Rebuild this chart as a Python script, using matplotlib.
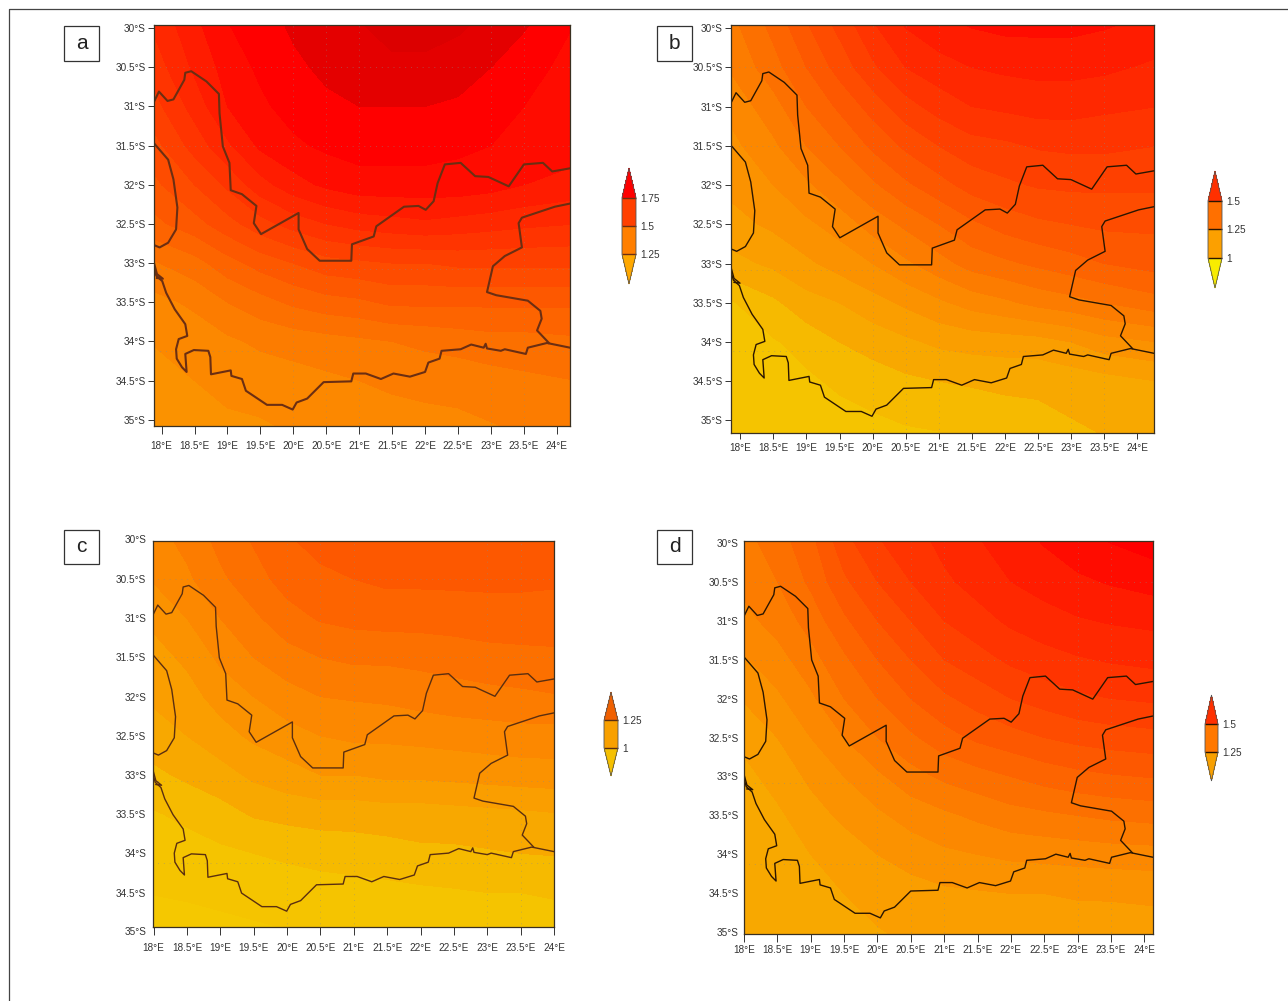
# %% imports
import numpy as np
import matplotlib
matplotlib.use('Agg')
import matplotlib.pyplot as plt
from matplotlib.colors import ListedColormap, BoundaryNorm
from matplotlib.cm import ScalarMappable
from matplotlib.lines import Line2D
from matplotlib.patches import Rectangle

plt.rcParams['font.family'] = ['Liberation Sans Narrow', 'Liberation Sans', 'DejaVu Sans']

W, H = 1288, 1001

# %% data
lons = [17.8, 18.5, 19, 19.5, 20, 20.5, 21, 21.5, 22, 22.5, 23, 23.5, 24.3]
lats = [29.9, 30.5, 31, 31.5, 32, 32.5, 33, 33.5, 34, 34.5, 35.2]

levels = [0.85, 0.95, 1.00, 1.05, 1.10, 1.15, 1.20, 1.25, 1.30, 1.35, 1.40, 1.45,
          1.50, 1.55, 1.60, 1.65, 1.70, 1.75, 1.80, 1.85, 2.00]
band_colors = ['#F5C800', '#F5C400', '#F6BA00', '#F8A800', '#FA9E00', '#FB9200', '#FC8800',
               '#FC7C00', '#FC7000', '#FD6400', '#FD5800', '#FE4C00', '#FE4000', '#FF3400',
               '#FF2800', '#FF1C00', '#FF0C00', '#FF0000', '#E40000', '#DC0000']

field_a = [[1.60, 1.69, 1.75, 1.78, 1.81, 1.83, 1.85, 1.87, 1.87, 1.86, 1.84, 1.81, 1.75],
           [1.56, 1.66, 1.72, 1.76, 1.79, 1.81, 1.83, 1.84, 1.84, 1.83, 1.80, 1.77, 1.73],
           [1.52, 1.62, 1.70, 1.74, 1.77, 1.79, 1.80, 1.80, 1.80, 1.79, 1.77, 1.75, 1.73],
           [1.47, 1.57, 1.64, 1.71, 1.74, 1.76, 1.77, 1.77, 1.77, 1.76, 1.75, 1.74, 1.72],
           [1.43, 1.50, 1.56, 1.63, 1.68, 1.71, 1.73, 1.73, 1.73, 1.73, 1.72, 1.70, 1.68],
           [1.38, 1.43, 1.48, 1.53, 1.57, 1.60, 1.62, 1.63, 1.64, 1.63, 1.62, 1.61, 1.60],
           [1.29, 1.33, 1.38, 1.42, 1.45, 1.48, 1.49, 1.50, 1.50, 1.51, 1.51, 1.51, 1.51],
           [1.23, 1.26, 1.30, 1.33, 1.36, 1.38, 1.39, 1.41, 1.41, 1.41, 1.41, 1.41, 1.41],
           [1.20, 1.22, 1.24, 1.26, 1.27, 1.28, 1.29, 1.30, 1.31, 1.32, 1.33, 1.33, 1.34],
           [1.19, 1.20, 1.21, 1.22, 1.23, 1.24, 1.25, 1.26, 1.27, 1.27, 1.28, 1.29, 1.30],
           [1.18, 1.18, 1.19, 1.19, 1.20, 1.20, 1.21, 1.22, 1.22, 1.23, 1.24, 1.25, 1.27]]
# b was read column by column, one list per longitude
field_b = np.array([[1.28, 1.25, 1.21, 1.18, 1.16, 1.13, 1.08, 0.99, 0.97, 0.96, 0.95],
                    [1.37, 1.33, 1.28, 1.24, 1.20, 1.16, 1.11, 1.04, 0.995, 0.97, 0.95],
                    [1.45, 1.40, 1.35, 1.30, 1.24, 1.19, 1.14, 1.08, 1.02, 0.99, 0.96],
                    [1.52, 1.47, 1.41, 1.35, 1.29, 1.22, 1.17, 1.10, 1.05, 1.01, 0.97],
                    [1.60, 1.54, 1.47, 1.41, 1.34, 1.27, 1.20, 1.13, 1.07, 1.025, 0.98],
                    [1.66, 1.60, 1.53, 1.46, 1.39, 1.31, 1.24, 1.16, 1.09, 1.04, 0.99],
                    [1.69, 1.63, 1.57, 1.50, 1.43, 1.35, 1.28, 1.19, 1.11, 1.05, 0.995],
                    [1.71, 1.65, 1.60, 1.53, 1.47, 1.39, 1.32, 1.22, 1.12, 1.055, 1.01],
                    [1.72, 1.66, 1.61, 1.54, 1.49, 1.42, 1.34, 1.24, 1.125, 1.06, 1.02],
                    [1.72, 1.665, 1.62, 1.555, 1.505, 1.44, 1.36, 1.265, 1.13, 1.06, 1.03],
                    [1.72, 1.665, 1.62, 1.56, 1.51, 1.45, 1.38, 1.28, 1.15, 1.07, 1.04],
                    [1.71, 1.66, 1.61, 1.56, 1.51, 1.46, 1.40, 1.30, 1.18, 1.08, 1.05],
                    [1.69, 1.64, 1.60, 1.55, 1.51, 1.46, 1.42, 1.33, 1.20, 1.10, 1.06]]).T
field_c = [[1.22, 1.27, 1.32, 1.36, 1.40, 1.42, 1.43, 1.44, 1.45, 1.45, 1.45, 1.45, 1.45],
           [1.19, 1.24, 1.29, 1.33, 1.37, 1.39, 1.40, 1.41, 1.41, 1.41, 1.41, 1.41, 1.405],
           [1.15, 1.20, 1.25, 1.29, 1.33, 1.355, 1.365, 1.37, 1.37, 1.375, 1.38, 1.38, 1.38],
           [1.12, 1.16, 1.21, 1.25, 1.28, 1.30, 1.31, 1.31, 1.315, 1.32, 1.33, 1.335, 1.34],
           [1.10, 1.13, 1.17, 1.20, 1.23, 1.25, 1.255, 1.26, 1.27, 1.28, 1.285, 1.29, 1.30],
           [1.07, 1.10, 1.13, 1.16, 1.18, 1.20, 1.21, 1.21, 1.215, 1.22, 1.225, 1.23, 1.23],
           [1.03, 1.06, 1.08, 1.11, 1.13, 1.15, 1.15, 1.16, 1.16, 1.165, 1.17, 1.175, 1.18],
           [0.99, 1.01, 1.03, 1.055, 1.065, 1.07, 1.07, 1.075, 1.075, 1.08, 1.085, 1.09, 1.10],
           [0.97, 0.98, 0.99, 1.00, 1.01, 1.02, 1.025, 1.03, 1.04, 1.04, 1.045, 1.05, 1.055],
           [0.95, 0.955, 0.96, 0.965, 0.97, 0.975, 0.98, 0.985, 0.99, 0.995, 1.00, 1.00, 1.005],
           [0.92, 0.925, 0.93, 0.935, 0.94, 0.945, 0.95, 0.955, 0.96, 0.965, 0.97, 0.975, 0.98]]
field_d = [[1.27, 1.33, 1.39, 1.49, 1.55, 1.58, 1.62, 1.65, 1.68, 1.71, 1.74, 1.76, 1.79],
           [1.25, 1.30, 1.36, 1.44, 1.50, 1.55, 1.59, 1.62, 1.65, 1.67, 1.69, 1.705, 1.725],
           [1.22, 1.27, 1.32, 1.39, 1.45, 1.50, 1.55, 1.58, 1.61, 1.63, 1.645, 1.655, 1.665],
           [1.18, 1.23, 1.28, 1.34, 1.40, 1.45, 1.50, 1.53, 1.56, 1.58, 1.595, 1.605, 1.615],
           [1.14, 1.19, 1.24, 1.30, 1.35, 1.40, 1.44, 1.47, 1.50, 1.52, 1.54, 1.55, 1.56],
           [1.10, 1.15, 1.20, 1.25, 1.30, 1.34, 1.38, 1.41, 1.43, 1.45, 1.465, 1.475, 1.485],
           [1.07, 1.12, 1.16, 1.20, 1.24, 1.28, 1.31, 1.33, 1.35, 1.37, 1.385, 1.395, 1.405],
           [1.06, 1.09, 1.13, 1.16, 1.19, 1.22, 1.24, 1.26, 1.28, 1.29, 1.30, 1.31, 1.32],
           [1.06, 1.08, 1.10, 1.125, 1.15, 1.17, 1.19, 1.20, 1.21, 1.215, 1.22, 1.225, 1.23],
           [1.06, 1.07, 1.085, 1.10, 1.115, 1.13, 1.14, 1.145, 1.15, 1.15, 1.155, 1.155, 1.16],
           [1.06, 1.065, 1.07, 1.08, 1.09, 1.10, 1.105, 1.11, 1.11, 1.115, 1.115, 1.12, 1.12]]

# boundaries and coast, lon then lat, as read in panel a
north_lon = [17.885, 17.96, 18.09, 18.18, 18.345, 18.36, 18.45, 18.68, 18.87, 18.88, 18.93, 19.03, 19.05,
             19.22, 19.44, 19.40, 19.51, 20.08, 20.08, 20.21, 20.40, 20.88, 20.89, 21.22, 21.26, 21.68,
             21.90, 22.01, 22.13, 22.19, 22.30, 22.54, 22.76, 22.96, 23.27, 23.50, 23.79, 23.93, 24.20]
north_lat = [30.94, 30.81, 30.93, 30.91, 30.66, 30.57, 30.55, 30.68, 30.84, 31.09, 31.51, 31.72, 32.07,
             32.12, 32.27, 32.49, 32.63, 32.36, 32.57, 32.82, 32.97, 32.97, 32.76, 32.66, 32.53, 32.28,
             32.27, 32.32, 32.21, 31.98, 31.74, 31.72, 31.89, 31.90, 32.02, 31.74, 31.72, 31.83, 31.79]
west_lon = [17.885, 18.10, 18.18, 18.24, 18.22, 18.10, 17.97, 17.885]
west_lat = [31.47, 31.68, 31.93, 32.29, 32.57, 32.74, 32.80, 32.77]
coast_lon = [17.885, 17.92, 18.01, 18.07, 18.20, 18.36, 18.39, 18.26, 18.22, 18.23, 18.31, 18.38, 18.36,
             18.49, 18.71, 18.74, 18.75, 19.05, 19.06, 19.22, 19.28, 19.60, 19.83, 19.99, 20.05, 20.21,
             20.46, 20.88, 20.91, 21.10, 21.33, 21.52, 21.77, 22.0, 22.05, 22.22, 22.25, 22.54, 22.70,
             22.89, 22.92, 22.94, 23.15, 23.21, 23.53, 23.56, 23.85, 24.20]
coast_lat = [33.06, 33.16, 33.23, 33.38, 33.59, 33.78, 33.93, 33.97, 34.10, 34.22, 34.33, 34.39, 34.16,
             34.11, 34.12, 34.20, 34.42, 34.37, 34.44, 34.48, 34.63, 34.81, 34.81, 34.87, 34.78, 34.73,
             34.52, 34.51, 34.41, 34.41, 34.48, 34.41, 34.45, 34.39, 34.27, 34.22, 34.12, 34.10, 34.04,
             34.08, 34.03, 34.09, 34.12, 34.10, 34.16, 34.08, 34.02, 34.08]
east_lon = [24.20, 23.97, 23.47, 23.42, 23.47, 23.21, 23.03, 22.94, 23.08, 23.56, 23.75, 23.77, 23.70, 23.88]
east_lat = [32.24, 32.28, 32.42, 32.49, 32.80, 32.91, 33.04, 33.37, 33.41, 33.48, 33.61, 33.71, 33.86, 34.02]
inlet_lon = [17.885, 17.93, 18.02, 17.93]
inlet_lat = [33.00, 33.14, 33.20, 33.19]

lon_ticks = [18, 18.5, 19, 19.5, 20, 20.5, 21, 21.5, 22, 22.5, 23, 23.5, 24]
lat_ticks = [30, 30.5, 31, 31.5, 32, 32.5, 33, 33.5, 34, 34.5, 35]
dot_lons = [20, 20.5, 21, 23, 23.5]
dot_lats = [30.5, 31.5, 33.08, 34.12]

# name, field, axes box px (l, t, r, b), xlim, ylim, label box px, bar box px,
# bar tick values, bar colours, line colour, line width, x tick len/pad, y tick len/pad
panels = [
    ('a', field_a, (154, 25, 570, 426), (17.885, 24.2), (35.08, 29.96), (64, 26, 99, 61),
     (622, 168, 636, 284), [1.25, 1.5, 1.75], ['#FFA800', '#FF7F00', '#FF4000', '#FF0000'],
     '#6B2E12', 1.5, (5.5, 5), (4, 2)),
    ('b', field_b, (731, 25, 1154, 433), (17.86, 24.25), (35.16, 29.96), (657, 26, 692, 61),
     (1208, 171, 1222, 288), [1, 1.25, 1.5], ['#F8EC00', '#FCA000', '#FF7000', '#FF3000'],
     '#2A1500', 1.0, (4, 3.5), (4, 2)),
    ('c', field_c, (153, 541, 554, 927), (17.99, 24.0), (34.94, 30.013), (64, 530, 99, 564),
     (604, 692, 618, 776), [1, 1.25], ['#F5C000', '#F8A000', '#F06000'],
     '#5A2E10', 1.0, (5.5, 6), (0, 5)),
    ('d', field_d, (744, 541, 1153, 934), (18.0, 24.13), (35.02, 29.98), (657, 530, 692, 564),
     (1205, 695, 1218, 781), [1.25, 1.5], ['#F8A000', '#FF7800', '#FF3000'],
     '#2A1500', 1.0, (5.5, 2.5), (0, 4)),
]


def box(l, t, r, b):
    return [l / W, 1 - b / H, (r - l) / W, (b - t) / H]


# %% plot data
fig = plt.figure(figsize=(W / 100, H / 100), dpi=100)
cmap = ListedColormap(band_colors)
norm = BoundaryNorm(levels, cmap.N)

for name, field, ax_box, xlim, ylim, lab_box, bar_box, bar_ticks, bar_colors, line_col, line_w, xt, yt in panels:
    ax = fig.add_axes(box(*ax_box))
    ax.contourf(lons, lats, np.array(field), levels=levels, cmap=cmap, norm=norm)
    ax.vlines(dot_lons, 29.9, 35.2, colors='#8a8a8a', linestyles=(0, (1, 5)), linewidth=0.7, alpha=0.45)
    ax.hlines(dot_lats, 17.8, 24.3, colors='#8a8a8a', linestyles=(0, (1, 5)), linewidth=0.7, alpha=0.45)
    # the map sits the same way in every frame, whatever the tick labels say
    sx = (xlim[1] - xlim[0]) / (24.2 - 17.885)
    sy = (ylim[0] - ylim[1]) / (35.08 - 29.96)
    for x, y in [(north_lon, north_lat), (west_lon, west_lat), (coast_lon, coast_lat),
                 (east_lon, east_lat), (inlet_lon, inlet_lat)]:
        ax.plot(xlim[0] + (np.array(x) - 17.885) * sx, ylim[1] + (np.array(y) - 29.96) * sy,
                color=line_col, linewidth=line_w)
    ax.set_xlim(*xlim)
    ax.set_ylim(*ylim)
    ax.set_xticks(lon_ticks, [f'{t:g}°E' for t in lon_ticks])
    inside = [t for t in lat_ticks if ylim[1] <= t <= ylim[0]]
    ax.set_yticks(inside, [f'{t:g}°S' for t in inside])
    ax.tick_params(axis='x', length=xt[0], width=0.7, pad=xt[1], labelsize=7.2, color='#333333', labelcolor='#333333')
    ax.tick_params(axis='y', length=yt[0], width=0.7, pad=yt[1], labelsize=7.2, color='#333333', labelcolor='#333333')
    # labels whose latitude falls just outside the frame
    for t in lat_ticks:
        if t not in inside:
            ax.annotate(f'{t:g}°S', (0, t), xycoords=ax.get_yaxis_transform(), xytext=(-yt[0] - yt[1], 0),
                        textcoords='offset points', ha='right', va='center', fontsize=7.2, color='#333333')
    for s in ax.spines.values():
        s.set_linewidth(0.9)
        s.set_color('#3a3020')

    # colour bar with pointed ends
    cax = fig.add_axes(box(*bar_box))
    bar_cmap = ListedColormap(bar_colors[1:-1]).with_extremes(under=bar_colors[0], over=bar_colors[-1])
    sm = ScalarMappable(norm=BoundaryNorm(bar_ticks, bar_cmap.N), cmap=bar_cmap)
    cb = fig.colorbar(sm, cax=cax, extend='both', extendfrac=1.04 / (len(bar_ticks) - 1), drawedges=True,
                      spacing='uniform', ticks=bar_ticks)
    cb.dividers.set_color(line_col)
    cb.dividers.set_linewidth(1.0)
    cb.outline.set_edgecolor('#555555')
    cb.outline.set_linewidth(0.6)
    cb.ax.tick_params(length=0, pad=3, labelsize=7.2, labelcolor='#333333')
    cb.ax.set_yticklabels([f'{t:g}' for t in bar_ticks])

    # panel letter
    l, t, r, b = lab_box
    fig.add_artist(Rectangle((l / W, 1 - b / H), (r - l) / W, (b - t) / H, transform=fig.transFigure,
                             facecolor='white', edgecolor='#333333', linewidth=0.9))
    fig.text((l + r) / 2 / W, 1 - (t + b) / 2 / H, name, ha='center', va='center', fontsize=15, color='#222222')

# page frame
fig.add_artist(Line2D([8.5 / W, 8.5 / W, 1], [0, 1 - 8.5 / H, 1 - 8.5 / H], color='#444444', linewidth=0.9))

fig.savefig('out.png', dpi=100)
# %%
